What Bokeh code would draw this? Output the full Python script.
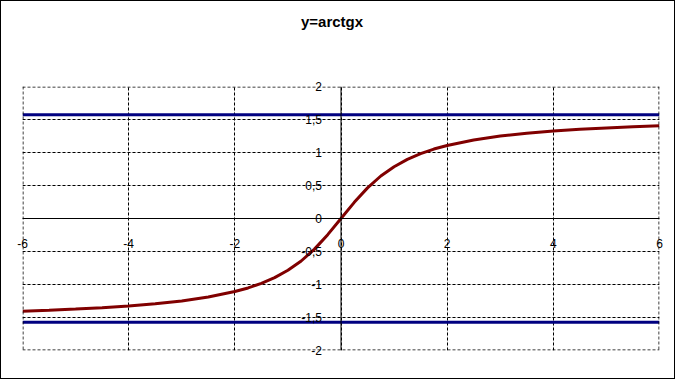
from bokeh.plotting import figure
from bokeh.models import Range1d, Grid, FixedTicker, Span, ColumnDataSource
from bokeh.core.properties import value
from bokeh.embed import file_html
from bokeh.resources import INLINE

# ---- data ----
curve_x = [-6, -5.5, -5, -4.5, -4, -3.5, -3, -2.5, -2, -1.75, -1.5, -1.25, -1, -0.75,
           -0.5, -0.25, 0, 0.25, 0.5, 0.75, 1, 1.25, 1.5, 1.75, 2, 2.5, 3, 3.5, 4,
           4.5, 5, 5.5, 6]
curve_y = [-1.406, -1.391, -1.373, -1.352, -1.326, -1.293, -1.249, -1.190, -1.107,
           -1.052, -0.983, -0.896, -0.785, -0.644, -0.464, -0.245, 0.0, 0.245,
           0.464, 0.644, 0.785, 0.896, 0.983, 1.052, 1.107, 1.190, 1.249, 1.293,
           1.326, 1.352, 1.373, 1.391, 1.406]
asym_x = [-6, 6]
asym_upper = [1.5708, 1.5708]
asym_lower = [-1.5708, -1.5708]

x_ticks = [-6, -4, -2, 0, 2, 4, 6]
x_tick_labels = ["-6", "-4", "-2", "0", "2", "4", "6"]
y_ticks = [2, 1.5, 1, 0.5, 0, -0.5, -1, -1.5, -2]
y_tick_labels = ["2", "1,5", "1", "0,5", "0", "-0,5", "-1", "-1,5", "-2"]
title_text = "y=arctgx"

FONT = "Liberation Sans"

FRAME_W, FRAME_H = 637, 264
p = figure(width=675, height=379, output_backend="svg", toolbar_location=None,
           x_range=Range1d(-6, 6), y_range=Range1d(-2, 2),
           x_axis_location=None, y_axis_location=None,
           min_border_left=21, min_border_right=17,
           min_border_top=85, min_border_bottom=30)
p.outline_line_color = None
p.background_fill_color = "white"
p.border_fill_color = "white"
p.styles = {"border": "1px solid black"}

# dashed grid
vgrid = Grid(dimension=0, ticker=FixedTicker(ticks=x_ticks),
             grid_line_color="black", grid_line_dash="3 2", grid_line_width=1)
hgrid = Grid(dimension=1, ticker=FixedTicker(ticks=y_ticks),
             grid_line_color="black", grid_line_dash="3 2", grid_line_width=1)
p.add_layout(vgrid)
p.add_layout(hgrid)

# dashed plot-area boundaries (nudged half a pixel inside so they stay crisp)
hx = 0.5 * 12 / FRAME_W
hy = 0.5 * 4 / FRAME_H
for loc, dim in [(x_ticks[0] + hx, "height"), (x_ticks[-1] - hx, "height"),
                 (y_ticks[0] - hy, "width"), (y_ticks[-1] + hy, "width")]:
    s = Span(location=loc, dimension=dim, line_color="black",
             line_dash="3 2", line_width=1)
    s.level = "overlay"
    p.add_layout(s)

# axes through origin
p.add_layout(Span(location=0, dimension="height", line_color="black", line_width=1))
p.add_layout(Span(location=0, dimension="width", line_color="black", line_width=1))

# asymptotes
p.line(asym_x, asym_upper, line_color="#000080", line_width=3)
p.line(asym_x, asym_lower, line_color="#000080", line_width=3)

# curve
p.line(curve_x, curve_y, line_color="#800000", line_width=3)

# tick labels
xs = ColumnDataSource(dict(x=x_ticks, y=[0] * len(x_ticks), t=x_tick_labels))
rx = p.text(x="x", y="y", text="t", source=xs, text_align="center",
            text_baseline="top", y_offset=20, text_color="black",
            text_font=value(FONT), text_font_size="12px")
rx.level = "overlay"

ys = ColumnDataSource(dict(x=[0] * len(y_ticks), y=y_ticks, t=y_tick_labels))
ry = p.text(x="x", y="y", text="t", source=ys, text_align="right",
            text_baseline="middle", x_offset=-19, text_color="black",
            text_font=value(FONT), text_font_size="12px")
ry.level = "overlay"

# title
ts = ColumnDataSource(dict(x=[0], y=[2], t=[title_text]))
rt = p.text(x="x", y="y", text="t", source=ts, text_align="center",
            text_baseline="middle", x_offset=-9, y_offset=-65,
            text_color="black", text_font=value(FONT), text_font_size="15px",
            text_font_style="bold")
rt.level = "overlay"

open("out.html", "w").write(file_html(p, INLINE))
